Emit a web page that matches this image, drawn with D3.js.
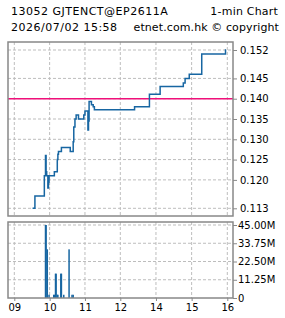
<!DOCTYPE html>
<html>
<head>
<meta charset="utf-8">
<script src="https://cdn.jsdelivr.net/npm/d3@7"></script>
<style>
  body { margin: 0; background: #fff; }
  svg { display: block; font-family: "DejaVu Sans", sans-serif; }
</style>
</head>
<body>
<svg id="svg" width="285" height="318"></svg>
<script>
// price, step series (time, last price)
const priceTimes = ["09:31","09:35","09:51","09:53","09:54","09:55","09:57","09:58","09:59","10:08",
  "10:13","10:14","10:15","10:20","10:35","10:40","10:41","10:43","10:45","10:49",
  "10:58","11:00","11:05","11:06","11:07","11:11","11:14","11:16","13:24","13:49",
  "14:07","14:46","14:49","14:56","15:17","15:57","15:58"];
const prices = [0.113,0.116,0.121,0.126,0.122,0.121,0.118,0.1195,0.121,0.122,
  0.125,0.1263,0.127,0.128,0.127,0.1294,0.133,0.135,0.136,0.135,
  0.136,0.137,0.1323,0.1345,0.1393,0.1385,0.138,0.1373,0.138,0.1411,
  0.143,0.1439,0.145,0.146,0.151,0.152,0.152];

// volume per minute, millions
const volTimes = ["09:53","09:54","09:56","09:59","10:07","10:08","10:10","10:11","10:13","10:14",
  "10:19","10:20","10:24","10:33","10:38","10:40"];
const volumes = [45,45,30,2,2,2,15,15,2,2,15,15,2,30,2,2];

const priceTicks = [0.152,0.145,0.140,0.135,0.130,0.125,0.120,0.113];
const volTicks = [45,33.75,22.5,11.25,0];
const volTickLabels = ["45.00M","33.75M","22.50M","11.25M","0"];
const hourTimes = ["09:00","10:00","11:00","12:00","14:00","15:00","16:00"];
const hourLabels = ["09","10","11","12","14","15","16"];
const refPrice = 0.140;

const svg = d3.select("#svg");
const mins = s => { const p = s.split(":"); return +p[0] * 60 + +p[1]; };

const left = 8, right = 233;
const top1 = 42, bot1 = 216, top2 = 222, bot2 = 298;

// lunch break collapsed
const x = d3.scaleLinear()
  .domain([mins("09:00"), mins("12:00"), mins("13:00"), mins("16:00")])
  .range([14.3, 120.3, 120.3, 227.3]);
const y = d3.scaleLinear().domain([0.113, 0.152]).range([208.3, 50]);
const yv = d3.scaleLinear().domain([0, 45]).range([bot2, 225]);

const gridColor = "#bdbdbd", frameColor = "#888";

function grid(top, bot, yTicks, yScale) {
  const g = svg.append("g");
  g.selectAll(".h").data(yTicks).join("line")
    .attr("x1", left).attr("x2", right)
    .attr("y1", d => yScale(d)).attr("y2", d => yScale(d))
    .attr("stroke", gridColor).attr("stroke-dasharray", "3,2");
  g.selectAll(".v").data(hourTimes).join("line")
    .attr("x1", d => x(mins(d))).attr("x2", d => x(mins(d)))
    .attr("y1", top).attr("y2", bot)
    .attr("stroke", gridColor).attr("stroke-dasharray", "3,2");
}

grid(top1, bot1, priceTicks, y);
grid(top2, bot2, volTicks.slice(0, 4), yv);

// reference line
svg.append("line")
  .attr("x1", left).attr("x2", right)
  .attr("y1", y(refPrice)).attr("y2", y(refPrice))
  .attr("stroke", "#f0107a").attr("stroke-width", 1.5);

// price line
const line = d3.line()
  .x((d, i) => x(mins(priceTimes[i])))
  .y(d => y(d))
  .curve(d3.curveStepAfter);
svg.append("path").datum(prices)
  .attr("d", line)
  .attr("fill", "none").attr("stroke", "#1766a2").attr("stroke-width", 1.5);

// volume bars
svg.selectAll(".bar").data(volumes).join("rect")
  .attr("x", (d, i) => x(mins(volTimes[i])) - 0.75)
  .attr("width", 1.5)
  .attr("y", d => yv(d))
  .attr("height", d => bot2 - yv(d))
  .attr("fill", "#1766a2");

// frames
[[top1, bot1], [top2, bot2]].forEach(([t, b]) => {
  svg.append("rect")
    .attr("x", left).attr("y", t)
    .attr("width", right - left).attr("height", b - t)
    .attr("fill", "none").attr("stroke", frameColor).attr("stroke-width", 1.5);
});

// right axes
function rightAxis(scale, ticks, labels, lx) {
  const g = svg.append("g")
    .attr("transform", `translate(${right},0)`)
    .call(d3.axisRight(scale).tickValues(ticks).tickSize(4).tickPadding(lx)
      .tickFormat((d, i) => labels[i]));
  g.select(".domain").remove();
  g.selectAll(".tick line").attr("stroke", frameColor);
  g.selectAll(".tick text").attr("font-size", 10).attr("fill", "#000")
    .attr("font-family", "DejaVu Sans");
}
rightAxis(y, priceTicks, priceTicks.map(d => d3.format(".3f")(d)), 3);
rightAxis(yv, volTicks, volTickLabels, 1);

// time axis
const gx = svg.append("g")
  .attr("transform", `translate(0,${bot2})`)
  .call(d3.axisBottom(x).tickValues(hourTimes.map(mins)).tickSize(3).tickPadding(3)
    .tickFormat((d, i) => hourLabels[i]));
gx.select(".domain").remove();
gx.selectAll(".tick line").attr("stroke", frameColor);
gx.selectAll(".tick text").attr("font-size", 10).attr("fill", "#000")
  .attr("font-family", "DejaVu Sans");

// header
const hdr = [
  ["13052 GJTENCT@EP2611A", 11, 14.7, "start", 0.5],
  ["1-min Chart", 278, 14.7, "end", 0.2],
  ["2026/07/02 15:58", 11, 30.7, "start", 0.5],
  ["etnet.com.hk © copyright", 279, 30.7, "end", 0.1]
];
svg.selectAll(".hdr").data(hdr).join("text")
  .attr("x", d => d[1]).attr("y", d => d[2])
  .attr("text-anchor", d => d[3])
  .attr("font-size", 11).attr("letter-spacing", d => d[4] + "px")
  .text(d => d[0]);
</script>
</body>
</html>
